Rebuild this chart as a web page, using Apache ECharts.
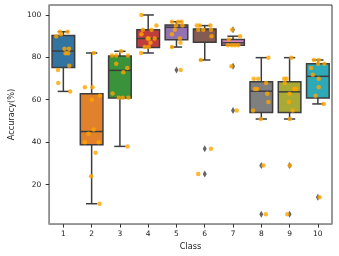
<!DOCTYPE html>
<html>
<head>
<meta charset="utf-8">
<script src="https://cdn.jsdelivr.net/npm/echarts@6/dist/echarts.min.js"></script>
<style>html,body{margin:0;padding:0;background:#fff}#c{width:339px;height:256px}</style>
</head>
<body>
<div id="c"></div>
<script>
// ---- data ----
const CLASSES = [1, 2, 3, 4, 5, 6, 7, 8, 9, 10];
const Y_TICKS = [20, 40, 60, 80, 100];
// per class: [lower whisker, Q1, median, Q3, upper whisker]
const BOX_1 = [63.9, 75.2, 82.9, 90.2, 92.0];
const BOX_2 = [11.0, 38.8, 45.0, 62.8, 82.0];
const BOX_3 = [38.0, 60.8, 73.8, 80.6, 82.8];
const BOX_4 = [82.0, 84.6, 88.8, 92.9, 99.9];
const BOX_5 = [84.8, 88.2, 94.1, 95.2, 96.7];
const BOX_6 = [78.7, 87.0, 93.0, 93.3, 94.9];
const BOX_7 = [85.7, 85.7, 86.8, 88.4, 89.9];
const BOX_8 = [50.9, 54.0, 64.0, 68.5, 79.8];
const BOX_9 = [50.9, 54.0, 63.7, 68.4, 79.8];
const BOX_10 = [58.0, 60.8, 71.0, 76.9, 78.7];
// outliers (fliers) per class
const OUT_1 = [];
const OUT_2 = [];
const OUT_3 = [];
const OUT_4 = [];
const OUT_5 = [74.0];
const OUT_6 = [36.9, 25.0];
const OUT_7 = [92.9, 75.8, 54.9];
const OUT_8 = [29.0, 6.0];
const OUT_9 = [29.0, 6.0];
const OUT_10 = [14.1];
// individual observations per class
const PTS_1 = [89.9, 92.0, 90.8, 92.0, 84.0, 84.0, 81.9, 81.9, 76.0, 74.0, 67.9, 63.9];
const PTS_2 = [82.0, 65.9, 65.9, 61.9, 60.0, 45.9, 44.0, 40.0, 40.0, 35.0, 23.9, 11.0];
const PTS_3 = [82.8, 80.8, 80.8, 80.8, 76.9, 74.9, 72.9, 62.9, 60.9, 60.9, 60.9, 38.0];
const PTS_4 = [99.9, 94.9, 92.9, 92.9, 90.8, 88.8, 88.8, 86.8, 84.8, 84.8, 82.0, 88.8];
const PTS_5 = [96.7, 96.7, 96.7, 94.9, 94.9, 92.9, 90.8, 88.8, 86.8, 84.8, 74.0];
const PTS_6 = [94.9, 94.9, 94.9, 92.9, 92.9, 92.9, 89.9, 78.7, 36.9, 25.0];
const PTS_7 = [92.9, 89.9, 88.4, 85.7, 85.7, 85.7, 85.7, 75.8, 54.9];
const PTS_8 = [79.8, 69.9, 69.9, 67.9, 65.0, 65.0, 62.8, 58.9, 54.9, 50.9, 29.0, 6.0];
const PTS_9 = [79.8, 69.9, 69.9, 67.9, 65.0, 65.0, 62.8, 58.9, 54.9, 50.9, 29.0, 6.0];
const PTS_10 = [78.7, 78.7, 76.9, 76.9, 74.9, 71.8, 69.9, 65.9, 61.9, 58.0, 14.1];

// ---- layout / style (strip-plot jitter, in class units) ----
const JITTER = [
  [-0.25, -0.12, -0.08, 0.15, 0.04, 0.20, 0.08, 0.17, 0.21, -0.19, -0.18, 0.24],
  [0.08, -0.24, 0.03, 0.29, 0.01, 0.07, -0.11, -0.24, 0.25, 0.14, -0.02, 0.28],
  [0.04, -0.28, -0.13, 0.28, -0.13, 0.26, 0.12, -0.26, -0.04, 0.10, 0.30, 0.27],
  [-0.24, 0.29, -0.19, 0.12, -0.24, 0.02, 0.23, 0.08, -0.12, 0.02, -0.25, -0.02],
  [-0.16, 0.06, 0.18, -0.02, 0.21, -0.06, -0.16, 0.12, 0.14, -0.16, 0.15],
  [-0.28, -0.18, 0.20, -0.23, -0.05, 0.22, 0.24, -0.14, 0.22, -0.23],
  [-0.03, 0.25, -0.15, -0.18, -0.04, 0.07, 0.18, -0.06, 0.13],
  [0.25, -0.27, -0.11, 0.17, -0.23, -0.15, 0.21, 0.25, -0.29, -0.02, 0.07, 0.16],
  [0.06, -0.19, -0.11, -0.17, 0.16, 0.23, 0.00, -0.02, 0.11, 0.01, 0.01, -0.08],
  [-0.14, 0.03, 0.01, 0.23, -0.24, -0.18, 0.03, 0.03, -0.08, 0.21, 0.06]
];
const COLORS = ['#3274a1', '#e1812c', '#3a923a', '#c03d3e', '#9372b2',
                '#845b53', '#d684bd', '#7f7f7f', '#a9aa35', '#2ea9b7'];
const LINE = '#3d3d3d';

const BOXES = [BOX_1, BOX_2, BOX_3, BOX_4, BOX_5, BOX_6, BOX_7, BOX_8, BOX_9, BOX_10];
const OUTS = [OUT_1, OUT_2, OUT_3, OUT_4, OUT_5, OUT_6, OUT_7, OUT_8, OUT_9, OUT_10];
const PTS = [PTS_1, PTS_2, PTS_3, PTS_4, PTS_5, PTS_6, PTS_7, PTS_8, PTS_9, PTS_10];

const boxData = CLASSES.map((c, i) => [c].concat(BOXES[i]));
const outData = [];
CLASSES.forEach((c, i) => OUTS[i].forEach(v => outData.push([c, v])));
const ptData = [];
CLASSES.forEach((c, i) => PTS[i].forEach((v, j) => ptData.push([c + JITTER[i][j], v])));

function renderBox(params, api) {
  const x = api.value(0);
  const lo = api.value(1), q1 = api.value(2), med = api.value(3), q3 = api.value(4), hi = api.value(5);
  const w = api.size([0.8, 0])[0];
  const cw = w / 2;
  const pLo = api.coord([x, lo]), pQ1 = api.coord([x, q1]), pMed = api.coord([x, med]);
  const pQ3 = api.coord([x, q3]), pHi = api.coord([x, hi]);
  const cx = pMed[0];
  const ls = { stroke: LINE, lineWidth: 1.5 };
  return {
    type: 'group',
    children: [
      { type: 'line', shape: { x1: cx, y1: pQ3[1], x2: cx, y2: pHi[1] }, style: ls },
      { type: 'line', shape: { x1: cx, y1: pQ1[1], x2: cx, y2: pLo[1] }, style: ls },
      { type: 'line', shape: { x1: cx - cw / 2, y1: pHi[1], x2: cx + cw / 2, y2: pHi[1] }, style: ls },
      { type: 'line', shape: { x1: cx - cw / 2, y1: pLo[1], x2: cx + cw / 2, y2: pLo[1] }, style: ls },
      { type: 'rect', shape: { x: cx - w / 2, y: pQ3[1], width: w, height: pQ1[1] - pQ3[1] },
        style: { fill: COLORS[params.dataIndex], stroke: LINE, lineWidth: 1.5 } },
      { type: 'line', shape: { x1: cx - w / 2, y1: pMed[1], x2: cx + w / 2, y2: pMed[1] }, style: ls }
    ]
  };
}

const chart = echarts.init(document.getElementById('c'), null, { renderer: 'canvas' });
chart.setOption({
  animation: false,
  backgroundColor: '#fff',
  textStyle: { fontFamily: 'DejaVu Sans' },
  grid: { left: 35, right: 7, top: 5, bottom: 29, show: true, borderColor: '#333', borderWidth: 1 },
  xAxis: {
    type: 'value', min: 0.5, max: 10.5,
    name: 'Class', nameLocation: 'middle', nameGap: 17,
    nameTextStyle: { fontSize: 8.2, color: '#222', fontFamily: 'DejaVu Sans' },
    splitLine: { show: false },
    axisLine: { show: true, lineStyle: { color: '#999', width: 1.5 } },
    axisTick: { show: true, length: 3.5, lineStyle: { color: '#333' }, customValues: CLASSES },
    axisLabel: { fontSize: 7.5, color: '#222', margin: 6, customValues: CLASSES, fontFamily: 'DejaVu Sans' }
  },
  yAxis: {
    type: 'value', min: 1.4, max: 104.6,
    name: 'Accuracy(%)', nameLocation: 'middle', nameGap: 27, nameRotate: 90,
    nameTextStyle: { fontSize: 8.2, color: '#222', fontFamily: 'DejaVu Sans' },
    splitLine: { show: false },
    axisLine: { show: true, lineStyle: { color: '#999', width: 1.5 } },
    axisTick: { show: true, length: 3.5, lineStyle: { color: '#333' }, customValues: Y_TICKS },
    axisLabel: { fontSize: 7.5, color: '#222', margin: 8, customValues: Y_TICKS, fontFamily: 'DejaVu Sans' }
  },
  series: [
    { type: 'custom', renderItem: renderBox, data: boxData, encode: { x: 0, y: [1, 2, 3, 4, 5] }, z: 2 },
    { type: 'scatter', data: outData, symbol: 'diamond', symbolSize: [4, 7],
      itemStyle: { color: LINE }, z: 3 },
    { type: 'scatter', data: ptData, symbol: 'circle', symbolSize: 4.5,
      itemStyle: { color: '#ffa500' }, z: 4 }
  ]
});
</script>
</body>
</html>
